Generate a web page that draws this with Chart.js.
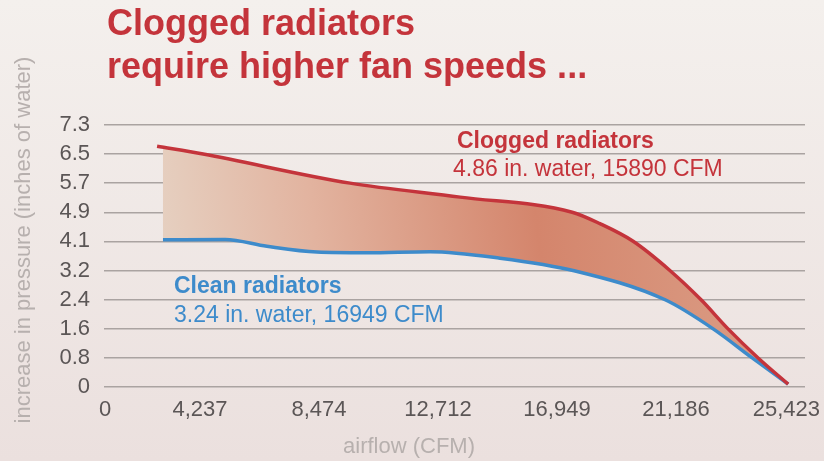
<!DOCTYPE html>
<html>
<head>
<meta charset="utf-8">
<script src="https://cdn.jsdelivr.net/npm/chart.js@4.4.1/dist/chart.umd.min.js"></script>
<style>
  html, body { margin: 0; padding: 0; background: #efe8e5; }
  #wrap { width: 824px; height: 461px; }
</style>
</head>
<body>
<div id="wrap"><canvas id="chart" width="824" height="461"></canvas></div>
<script>
// airflow (CFM) vs pressure increase (inches of water)
const cloggedAirflow = [2710, 4350, 9580, 13500, 17490, 18480, 19660, 20980, 22080, 23040, 24110, 25180];
const cloggedPressure = [6.71, 6.49, 5.68, 5.29, 4.87, 4.55, 4.06, 3.24, 2.43, 1.62, 0.81, 0.08];
const cleanAirflow = [2920, 5130, 6620, 8400, 10180, 12430, 14920, 17560, 20800, 22510, 23900, 25180];
const cleanPressure = [4.10, 4.11, 3.92, 3.76, 3.74, 3.77, 3.59, 3.24, 2.43, 1.62, 0.81, 0.08];

const xTickValues = [0, 4237, 8474, 12712, 16949, 21186, 25423];
const xTickLabels = ['0', '4,237', '8,474', '12,712', '16,949', '21,186', '25,423'];
const yTickValues = [0, 0.811, 1.622, 2.433, 3.244, 4.056, 4.867, 5.678, 6.489, 7.3];
const yTickLabels = ['0', '0.8', '1.6', '2.4', '3.2', '4.1', '4.9', '5.7', '6.5', '7.3'];

const RED = '#c4343b';
const BLUE = '#3d8bcb';
const GREY_TEXT = '#5b5656';
const LIGHT_TEXT = '#b7b0ae';
const FONT = '"Liberation Sans", Arial, Helvetica, sans-serif';

const toPoints = (xs, ys) => xs.map((x, i) => ({ x: x, y: ys[i] }));

const bgPlugin = {
  id: 'bg',
  beforeDraw(chart) {
    const ctx = chart.ctx;
    const g = ctx.createLinearGradient(0, 0, 0, chart.height);
    g.addColorStop(0, '#f4f0ed');
    g.addColorStop(1, '#ebe0de');
    ctx.save();
    ctx.fillStyle = g;
    ctx.fillRect(0, 0, chart.width, chart.height);
    ctx.restore();
  }
};

const textPlugin = {
  id: 'texts',
  afterDraw(chart) {
    const ctx = chart.ctx;
    const xs = chart.scales.x;
    const area = chart.chartArea;
    ctx.save();

    // title
    ctx.fillStyle = RED;
    ctx.font = 'bold 36px ' + FONT;
    ctx.textAlign = 'left';
    ctx.textBaseline = 'alphabetic';
    ctx.fillText('Clogged radiators', 107, 35);
    ctx.fillText('require higher fan speeds ...', 107, 78);

    // x tick labels, kept inside the canvas
    ctx.font = '22px ' + FONT;
    ctx.fillStyle = GREY_TEXT;
    ctx.textAlign = 'center';
    ctx.textBaseline = 'middle';
    xTickValues.forEach((v, i) => {
      const w = ctx.measureText(xTickLabels[i]).width;
      let px = xs.getPixelForValue(v);
      px = Math.max(px, area.left + 1);
      px = Math.min(px, chart.width - w / 2 - 4);
      ctx.fillText(xTickLabels[i], px, 410);
    });

    // axis titles
    ctx.fillStyle = LIGHT_TEXT;
    ctx.font = '22px ' + FONT;
    ctx.fillText('airflow (CFM)', 409, 447);
    ctx.save();
    ctx.translate(24, 240);
    ctx.rotate(-Math.PI / 2);
    ctx.fillText('increase in pressure (inches of water)', 0, 0);
    ctx.restore();

    // series annotations
    ctx.textAlign = 'left';
    ctx.textBaseline = 'alphabetic';
    ctx.fillStyle = RED;
    ctx.font = 'bold 23px ' + FONT;
    ctx.fillText('Clogged radiators', 457, 148);
    ctx.font = '23px ' + FONT;
    ctx.fillText('4.86 in. water, 15890 CFM', 453, 176);
    ctx.fillStyle = BLUE;
    ctx.font = 'bold 23px ' + FONT;
    ctx.fillText('Clean radiators', 174, 293);
    ctx.font = '23px ' + FONT;
    ctx.fillText('3.24 in. water, 16949 CFM', 174, 322);

    ctx.restore();
  }
};

const fillGradient = (context) => {
  const chart = context.chart;
  if (!chart.chartArea) return 'rgba(215,140,110,0.7)';
  const g = chart.ctx.createLinearGradient(150, 250, 700, 190);
  g.addColorStop(0, '#e6d2c3');
  g.addColorStop(0.3, '#e2b39f');
  g.addColorStop(0.7, '#d4856c');
  g.addColorStop(1, '#d9977f');
  return g;
};

new Chart(document.getElementById('chart'), {
  type: 'line',
  data: {
    datasets: [
      {
        label: 'Clogged radiators',
        data: toPoints(cloggedAirflow, cloggedPressure),
        borderColor: RED,
        borderWidth: 3.5,
        backgroundColor: fillGradient,
        fill: '+1',
        cubicInterpolationMode: 'monotone',
        pointRadius: 0
      },
      {
        label: 'Clean radiators',
        data: toPoints(cleanAirflow, cleanPressure),
        borderColor: BLUE,
        borderWidth: 3.5,
        fill: false,
        cubicInterpolationMode: 'monotone',
        pointRadius: 0
      }
    ]
  },
  options: {
    responsive: false,
    animation: false,
    layout: { padding: { top: 125, right: 19, bottom: 0, left: 0 } },
    plugins: {
      legend: { display: false },
      tooltip: { enabled: false },
      filler: { drawTime: 'beforeDatasetsDraw' }
    },
    scales: {
      x: {
        type: 'linear',
        min: 820,
        max: 25780,
        grid: { display: false },
        border: { display: false },
        ticks: { display: false },
        afterFit(scale) { scale.height = 74; }
      },
      y: {
        min: 0,
        max: 7.3,
        afterBuildTicks(scale) {
          scale.ticks = yTickValues.map(v => ({ value: v }));
        },
        ticks: {
          autoSkip: false,
          padding: 14,
          color: GREY_TEXT,
          font: { size: 22, family: FONT },
          callback: (v) => yTickLabels[yTickValues.indexOf(v)]
        },
        grid: { color: '#aaa3a1', lineWidth: 1.5, drawTicks: false },
        border: { display: false },
        afterFit(scale) { scale.width = 104; }
      }
    }
  },
  plugins: [bgPlugin, textPlugin]
});
</script>
</body>
</html>
